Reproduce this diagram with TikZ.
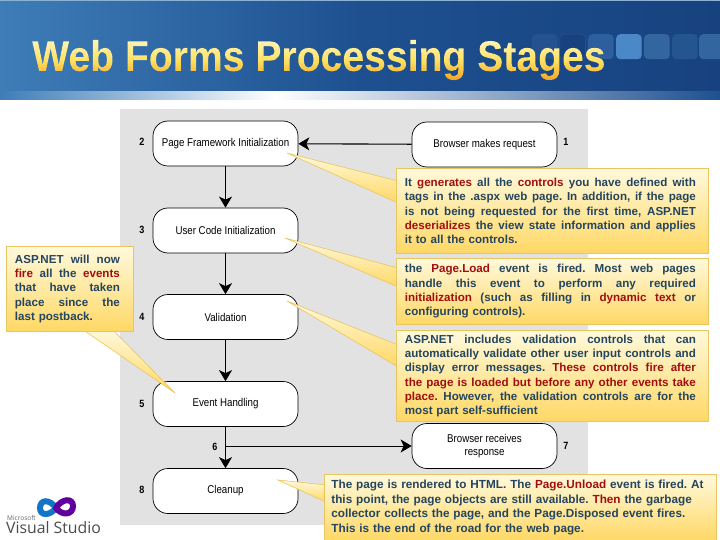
\documentclass[tikz,border=0pt]{standalone}
\usepackage{fontspec}
\setmainfont{Liberation Sans}
\newfontfamily\narrowf[FakeStretch=0.86]{Liberation Sans}
\newfontfamily\titlef[FakeStretch=0.91]{Liberation Sans}
\newfontfamily\logof{Open Sans}
\usetikzlibrary{arrows.meta,calc}
\definecolor{hdrL}{HTML}{3E7DB8}
\definecolor{hdrM}{HTML}{1E5090}
\definecolor{hdrR}{HTML}{17427F}
\definecolor{panel}{HTML}{E2E2E2}
\definecolor{calloutT}{HTML}{FFF9DC}
\definecolor{calloutB}{HTML}{FFD865}
\definecolor{calloutE}{HTML}{E9C560}
\definecolor{txtblue}{HTML}{24455F}
\definecolor{txtred}{HTML}{A00E0E}
\definecolor{titleT}{HTML}{FFF6C0}
\definecolor{titleM}{HTML}{FFE264}
\definecolor{titleB}{HTML}{F2A325}
\newcommand{\rd}[1]{\textcolor{txtred}{#1}}
\newcommand{\J}[2][291pt]{\hbox to #1{\spaceskip=.278em plus 2em\relax #2}}
\newsavebox{\titlebox}
\tikzset{
  x=1pt,y=-1pt,
  stage/.style={draw=black,line width=0.7pt,fill=white,rounded corners=15pt,minimum width=145pt,minimum height=45pt,inner sep=1pt,align=center,font=\narrowf\fontsize{11.3}{13}\selectfont,text=black},
  num/.style={font=\narrowf\bfseries\fontsize{10.5}{12}\selectfont,text=black,inner sep=0pt},
  flow/.style={draw=black,line width=0.75pt,-{Stealth[length=11pt,width=13pt,inset=3pt]}},
  flowthick/.style={flow,line width=1.1pt},
  calloutbox/.style={draw=calloutE,line width=0.8pt,top color=calloutT,bottom color=calloutB,anchor=north west,inner ysep=0pt,font=\bfseries\frenchspacing\fontsize{11.6}{14.35}\selectfont,text=txtblue},
  pointer/.style={draw=calloutE,line width=0.6pt,top color=calloutT,bottom color=calloutB},
  deco/.style={rounded corners=4pt,minimum width=25.5pt,minimum height=25pt,inner sep=0pt,anchor=north west}
}
\begin{document}
\sbox{\titlebox}{\titlef\fontsize{43}{44}\selectfont\bfseries Web Forms Processing Stages}%
\begin{tikzpicture}
\useasboundingbox (0,0) rectangle (720,540);
\fill[white] (0,0) rectangle (720,540);
% header
\shade[left color=hdrL,right color=hdrR,middle color=hdrM] (0,0) rectangle (720,92);
\fill[hdrL!60!white] (0,0) rectangle (720,1);
\shade[left color=hdrL,right color=white] (0,92) rectangle (275,100);
\shade[left color=white,right color=hdrM] (275,92) rectangle (720,100);
\node[deco,fill={rgb,255:red,36;green,82;blue,143}] (d1) at (532,34) {};
\node[deco,fill=hdrR,draw=hdrL!70!black,line width=0.5pt] (d2) at (559.5,34) {};
\node[deco,fill={rgb,255:red,45;green,95;blue,159}] (d3) at (588,34) {};
\node[deco,fill={rgb,255:red,74;green,136;blue,200}] (d4) at (616,34) {};
\node[deco,fill={rgb,255:red,51;green,102;blue,159}] (d5) at (644,34) {};
\node[deco,fill={rgb,255:red,37;green,85;blue,143}] (d6) at (672,34) {};
\node[deco,fill={rgb,255:red,51;green,102;blue,159}] (d7) at (699,34) {};
% title: the text itself clips the gradient
\node[inner sep=0pt,anchor=base west] (title) at (32,71) {%
  \special{pdf:code q 7 Tr}\usebox{\titlebox}\special{pdf:code 0 Tr}%
  \hskip-\wd\titlebox
  \tikz[baseline=0pt]{\shade[top color=titleT,bottom color=titleB,middle color=titleM] (0pt,-10pt) rectangle (\wd\titlebox,33pt);}%
  \special{pdf:code Q}};
% panel
\fill[panel] (120,109) rectangle (588,525);
% stages
\node[stage] (n2) at (225.5,143.5) {\raisebox{1.5pt}{Page Framework Initialization}};
\node[stage] (n1) at (484.5,144.5) {\raisebox{2pt}{Browser makes request}};
\node[stage] (n3) at (225.5,230.5) {User Code Initialization};
\node[stage] (n4) at (225.5,317) {Validation};
\node[stage] (n5) at (225.5,404) {Event Handling};
\node[stage] (n7) at (484.5,446) {Browser receives\\response};
\node[stage] (n8) at (225.5,491) {Cleanup};
\node[num] (l2) at (142,142) {2};
\node[num] (l1) at (566,142) {1};
\node[num] (l3) at (142,230) {3};
\node[num] (l4) at (142,317) {4};
\node[num] (l5) at (142,404) {5};
\node[num] (l6) at (215,447) {6};
\node[num] (l7) at (566,446) {7};
\node[num] (l8) at (142,490) {8};
% connectors
\draw[flowthick] (n1) -- (n2);
\draw[flowthick] (n2) -- (n3);
\draw[flow] (n3) -- (n4);
\draw[flow] (n4) -- (n5);
\draw[flow] (n5) -- (n8);
\coordinate (branch) at (n5.south |- n7.west);
\draw[flow] (branch) -- (n7);
% callout pointers
\draw[pointer] (287,153) -- (398,181) -- (398,203) -- cycle;
\draw[pointer] (285,238) -- (398,268) -- (398,287) -- cycle;
\draw[pointer] (287,301) -- (398,345) -- (398,367) -- cycle;
\draw[pointer] (175,393) -- (82,329) -- (112,329) -- cycle;
\draw[pointer] (278,480) -- (326,485) -- (326,502) -- cycle;
% callouts
\node[calloutbox,minimum width=312pt,minimum height=85pt,text width=295pt,inner xsep=8.5pt] (c1) at (396,168) {%
\J{It \rd{generates} all the \rd{controls} you have defined with}
\J{tags in the .aspx web page. In addition, if the page}
\J{is not being requested for the first time, ASP.NET}
\J{\rd{deserializes} the view state information and applies}
\hbox{it to all the controls.}};
\node[calloutbox,minimum width=312pt,minimum height=66pt,text width=295pt,inner xsep=8.5pt] (c2) at (396,258) {%
\J{the \rd{Page.Load} event is fired. Most web pages}
\J{handle this event to perform any required}
\J{\rd{initialization} (such as filling in \rd{dynamic text} or}
\hbox{configuring controls).}};
\node[calloutbox,minimum width=312pt,minimum height=91pt,text width=295pt,inner xsep=8.5pt] (c3) at (396,330) {%
\J{ASP.NET includes validation controls that can}
\J{automatically validate other user input controls and}
\J{display error messages. \rd{These controls fire after}}
\J{\rd{the page is loaded but before any other events take}}
\J{\rd{place.} However, the validation controls are for the}
\hbox{most part self-sufficient}};
\node[calloutbox,minimum width=127pt,minimum height=85pt,text width=110pt,inner xsep=8.5pt] (c5) at (6,246) {%
\J[105pt]{ASP.NET will now}
\J[105pt]{\rd{fire} all the \rd{events}}
\J[105pt]{that have taken}
\J[105pt]{place since the}
\hbox{last postback.}};
\node[calloutbox,minimum width=392pt,minimum height=66pt,text width=378pt,inner xsep=7pt,font=\bfseries\frenchspacing\fontsize{11.75}{14.5}\selectfont] (c4) at (324,474) {%
\hbox{The page is rendered to HTML. The \rd{Page.Unload} event is fired. At}
\hbox{this point, the page objects are still available. \rd{Then} the garbage}
\hbox{collector collects the page, and the Page.Disposed event fires.}
\hbox{This is the end of the road for the web page.}};
% logo
\draw[line width=6pt,color=cyan!55!blue,line cap=round] (56,508) .. controls (50,499) and (40,499) .. (40,508) .. controls (40,516) and (50,516) .. (56,508);
\draw[line width=6pt,color=violet!75!blue,line cap=round] (56,508) .. controls (62,498) and (73,498) .. (73,506) .. controls (73,515) and (62,516) .. (56,508);
\node[inner sep=0pt,anchor=west,font=\logof\fontsize{6.5}{8}\selectfont,text=black!60] (ms) at (7,518) {Microsoft};
\node[inner sep=0pt,anchor=base west,font=\logof\fontsize{15.8}{16}\selectfont,text=black!70] (vs) at (6,533) {Visual Studio};
\end{tikzpicture}
\end{document}
